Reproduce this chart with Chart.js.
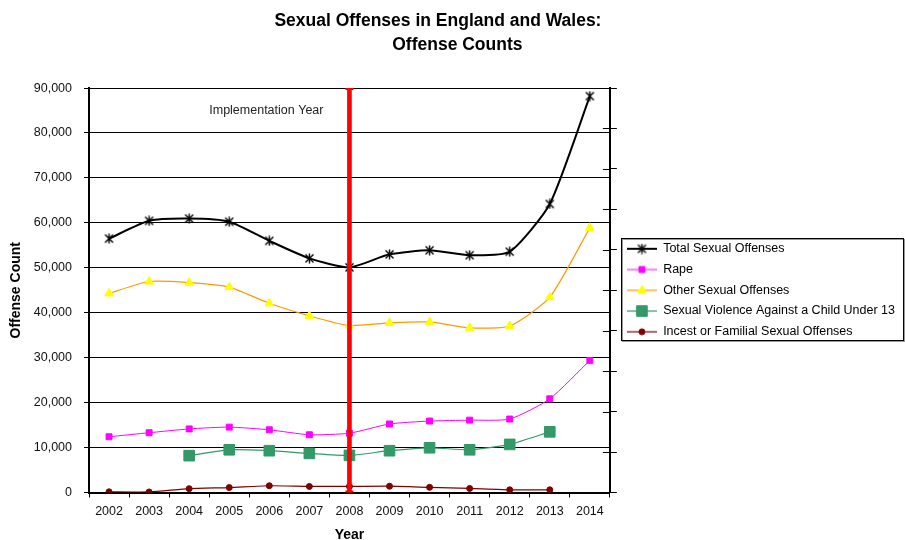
<!DOCTYPE html>
<html>
<head>
<meta charset="utf-8">
<title>Sexual Offenses in England and Wales: Offense Counts</title>
<script src="https://cdn.jsdelivr.net/npm/chart.js@4.4.1/dist/chart.umd.min.js"></script>
<style>
  html, body { margin: 0; padding: 0; background: #fff; }
  #wrap { width: 905px; height: 540px; }
</style>
</head>
<body>
<div id="wrap"><canvas id="offenseChart" width="905" height="540"></canvas></div>
<script>
// values
var years = ['2002', '2003', '2004', '2005', '2006', '2007', '2008', '2009', '2010', '2011', '2012', '2013', '2014'];
var totalOffenses = [56500, 60450, 60950, 60250, 56000, 52100, 50100, 53000, 53900, 52800, 53600, 64200, 88200];
var rape = [12400, 13300, 14150, 14550, 13950, 12850, 13200, 15250, 15900, 16100, 16350, 20850, 29400];
var otherOffenses = [44300, 46950, 46700, 45700, 42100, 39300, 37150, 37750, 37950, 36650, 37050, 43450, 58900];
var childUnder13 = [null, null, 8200, 9500, 9300, 8700, 8250, 9300, 9950, 9500, 10700, 13500, null];
var incest = [150, 120, 850, 1100, 1500, 1350, 1350, 1400, 1150, 900, 600, 600, null];
var implementationYear = '2008';
var yMax = 90000;
var yStep = 10000;

var FONT = '"Liberation Sans", Arial, sans-serif';

// Excel style star marker: x with a vertical bar
function starMarker() {
  var c = document.createElement('canvas');
  c.width = 11; c.height = 11;
  var g = c.getContext('2d');
  g.strokeStyle = '#000'; g.lineWidth = 1.4;
  g.beginPath();
  g.moveTo(1.5, 1.5); g.lineTo(9.5, 9.5);
  g.moveTo(9.5, 1.5); g.lineTo(1.5, 9.5);
  g.moveTo(5.5, 0.5); g.lineTo(5.5, 10.5);
  g.stroke();
  return c;
}

// legend sample: short line with the marker in the middle
function legendSwatch(ds) {
  var c = document.createElement('canvas');
  c.width = 30; c.height = 14;
  var g = c.getContext('2d');
  g.strokeStyle = ds.borderColor; g.lineWidth = ds.borderWidth;
  g.beginPath(); g.moveTo(0, 7); g.lineTo(30, 7); g.stroke();
  if (ds.pointStyle instanceof HTMLCanvasElement) {
    g.drawImage(ds.pointStyle, 15 - ds.pointStyle.width / 2, 7 - ds.pointStyle.height / 2);
  } else {
    g.fillStyle = ds.pointBackgroundColor;
    g.strokeStyle = ds.pointBorderColor;
    g.lineWidth = ds.pointBorderWidth;
    Chart.helpers.drawPoint(g, { pointStyle: ds.pointStyle, radius: ds.pointRadius, borderWidth: ds.pointBorderWidth, rotation: 0 }, 15, 7);
  }
  return c;
}

function lineSet(label, data, color, width, marker, radius, fill, border) {
  return {
    type: 'line', label: label, data: data, order: 1,
    borderColor: color, borderWidth: width, tension: 0.2,
    pointStyle: marker, pointRadius: radius, pointHoverRadius: radius,
    pointBackgroundColor: fill, pointBorderColor: border, pointBorderWidth: 1
  };
}

var datasets = [
  {
    type: 'bar', label: 'Implementation', showInLegend: false, order: 0,
    data: years.map(function(y) { return y === implementationYear ? [0, yMax] : null; }),
    backgroundColor: '#ff0000', barThickness: 4, yAxisID: 'y'
  },
  lineSet('Total Sexual Offenses', totalOffenses, '#000000', 2, starMarker(), 5, '#000', '#000'),
  lineSet('Rape', rape, '#ff00ff', 1, 'rect', 4.2, '#ff00ff', '#ff00ff'),
  lineSet('Other Sexual Offenses', otherOffenses, '#ff9900', 1.2, 'triangle', 5, '#ffff00', '#ffff00'),
  lineSet('Sexual Violence Against a Child Under 13', childUnder13, '#339966', 1.2, 'rect', 7.5, '#339966', '#339966'),
  lineSet('Incest or Familial Sexual Offenses', incest, '#800000', 1.2, 'circle', 3, '#800000', '#800000')
];

var extras = {
  id: 'extras',
  afterDraw: function(chart) {
    var ctx = chart.ctx, area = chart.chartArea;
    var x = chart.scales.x, y = chart.scales.y, y2 = chart.scales.y2;
    ctx.save();

    // caps on the implementation line
    var xi = x.getPixelForValue(years.indexOf(implementationYear));
    ctx.strokeStyle = '#ff0000'; ctx.lineWidth = 2;
    ctx.beginPath();
    ctx.moveTo(xi - 4, y.getPixelForValue(yMax) + 1); ctx.lineTo(xi + 4, y.getPixelForValue(yMax) + 1);
    ctx.moveTo(xi - 4, y.getPixelForValue(0) - 1); ctx.lineTo(xi + 4, y.getPixelForValue(0) - 1);
    ctx.stroke();

    // label
    ctx.fillStyle = '#222';
    ctx.font = '12.5px ' + FONT;
    ctx.textAlign = 'right';
    ctx.textBaseline = 'middle';
    ctx.fillText('Implementation Year', xi - 26, y.getPixelForValue(85000));

    // right axis ticks also cross into the plot
    ctx.strokeStyle = '#000'; ctx.lineWidth = 1;
    ctx.beginPath();
    y2.ticks.forEach(function(t) {
      var py = Math.round(y2.getPixelForValue(t.value)) + 0.5;
      ctx.moveTo(area.right - 7, py); ctx.lineTo(area.right, py);
    });
    ctx.stroke();

    // legend frame
    var boxes = chart.legend.legendHitBoxes;
    if (boxes && boxes.length) {
      var top = Math.min.apply(null, boxes.map(function(b) { return b.top; })) - 4.5;
      var bottom = Math.max.apply(null, boxes.map(function(b) { return b.top + b.height; })) + 2.5;
      var left = Math.min.apply(null, boxes.map(function(b) { return b.left; })) - 6;
      var right = chart.legend.right - 2;
      var fx = Math.round(left) + 0.5, fy = Math.round(top) + 0.5;
      var fw = Math.round(right - left), fh = Math.round(bottom - top);
      ctx.strokeStyle = '#999'; ctx.lineWidth = 1;
      ctx.strokeRect(fx + 1, fy + 1, fw, fh);
      ctx.strokeStyle = '#000';
      ctx.strokeRect(fx, fy, fw, fh);
    }
    ctx.restore();
  }
};

new Chart(document.getElementById('offenseChart').getContext('2d'), {
  data: { labels: years, datasets: datasets },
  options: {
    responsive: false, animation: false, devicePixelRatio: 1,
    layout: { padding: { top: 0, right: 0, bottom: 0, left: 0 } },
    plugins: {
      tooltip: { enabled: false },
      title: {
        display: true, color: '#000',
        text: ['Sexual Offenses in England and Wales:      ', '  Offense Counts'],
        font: { family: FONT, size: 17.5, weight: 'bold', lineHeight: 1.33 },
        padding: { top: 10, bottom: 31.5 }
      },
      legend: {
        position: 'right', align: 'center', fullSize: false, maxWidth: 300,
        labels: {
          color: '#000', font: { family: FONT, size: 12.5 },
          usePointStyle: true, pointStyleWidth: 30, boxHeight: 12, padding: 8.25,
          generateLabels: function(chart) {
            var items = Chart.defaults.plugins.legend.labels.generateLabels(chart);
            return items.filter(function(it) {
              return chart.data.datasets[it.datasetIndex].showInLegend !== false;
            }).map(function(it) {
              it.pointStyle = legendSwatch(chart.data.datasets[it.datasetIndex]);
              return it;
            });
          }
        }
      }
    },
    scales: {
      x: {
        offset: true,
        grid: { offset: true, drawOnChartArea: false, tickLength: 5, color: '#000' },
        border: { color: '#000', width: 2 },
        ticks: { color: '#111', font: { family: FONT, size: 12.5 }, padding: 7, maxRotation: 0, autoSkip: false },
        title: { display: true, text: 'Year', color: '#000', font: { family: FONT, size: 14, weight: 'bold', lineHeight: 1 }, padding: { top: 2, bottom: -2.5 } }
      },
      y: {
        min: 0, max: yMax,
        grid: { color: '#000', tickLength: 5 },
        border: { color: '#000', width: 2 },
        ticks: { stepSize: yStep, color: '#111', font: { family: FONT, size: 12.5 }, padding: 12,
          callback: function(v) { return v.toLocaleString('en-US'); } },
        title: { display: true, text: 'Offense Count', color: '#000', font: { family: FONT, size: 14, weight: 'bold', lineHeight: 1.2 }, padding: { top: 8, bottom: 0 } },
        afterFit: function(s) { s.width = 89; }
      },
      y2: {
        position: 'right', min: 0, max: 100,
        ticks: { display: false, stepSize: 10 },
        grid: { drawOnChartArea: false, tickLength: 7, color: '#000' },
        border: { color: '#000', width: 2 },
        afterFit: function(s) { s.width = 8.75; }
      }
    }
  },
  plugins: [extras]
});
</script>
</body>
</html>
